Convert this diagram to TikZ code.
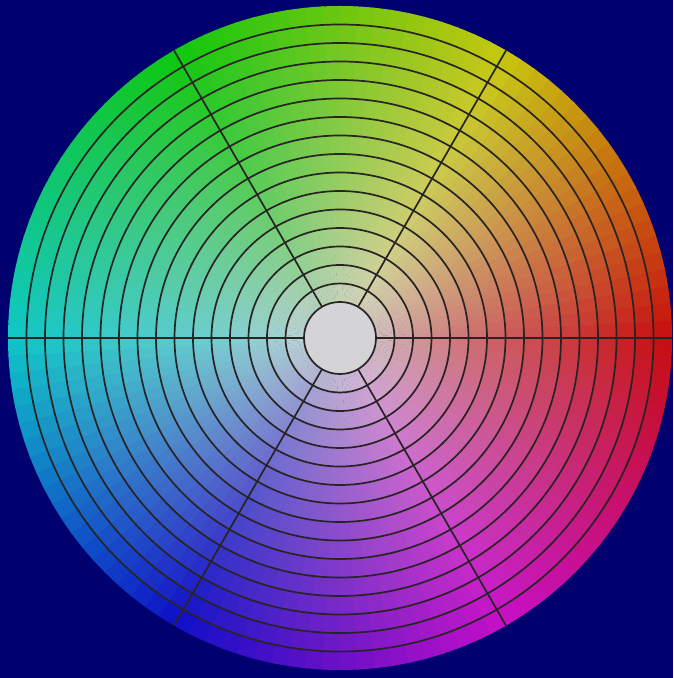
\documentclass[tikz,border=0pt]{standalone}
\usepackage{xcolor}
\definecolor{bgnavy}{RGB}{0,0,110}
\definecolor{centergray}{RGB}{212,212,214}
\definecolor{ringline}{RGB}{40,36,36}
\tikzset{ringstroke/.style={draw=ringline,line width=1.7pt}}
\begin{document}
\begin{tikzpicture}[x=1pt,y=1pt]
\fill[bgnavy] (0,0) rectangle (673,678);
\useasboundingbox (0,0) rectangle (673,678);
\begin{scope}[shift={(340,340)}]
\begin{scope}
\clip (0,0) circle[radius=332];
\foreach \i in {0,...,119}{
  \pgfmathsetmacro\a{\i*3}
  \pgfmathsetmacro\b{\i*3+3.3}
  \pgfmathsetmacro\h{(\i*3+1.5)/360}
  \definecolor{hchsb}{hsb}{\h,0.92,0.78}
  \colorlet{hc}[rgb]{hchsb}
  \foreach \k in {0,...,15}{
    \pgfmathsetmacro\ri{36+18.5*\k}
    \pgfmathsetmacro\ro{\ri+19.5}
    \pgfmathsetmacro\t{100*((\k+1)/16)^0.65}
    \fill[hc!\t!centergray] (\a:\ri) -- (\a:\ro) arc[start angle=\a,end angle=\b,radius=\ro] -- (\b:\ri) arc[start angle=\b,end angle=\a,radius=\ri] -- cycle;
  }
}
\end{scope}
\node[circle,fill=centergray,minimum size=72pt,inner sep=0pt] (hub) at (0,0) {};
\foreach \k in {0,...,15}{
  \pgfmathsetmacro\r{36+18.5*\k}
  \draw[ringstroke] (0,0) circle[radius=\r];
}
\foreach \ang in {0,60,...,300}{
  \coordinate (rim\ang) at (\ang:332);
  \draw[ringstroke] (hub.\ang) -- (rim\ang);
}
\end{scope}
\end{tikzpicture}
\end{document}
